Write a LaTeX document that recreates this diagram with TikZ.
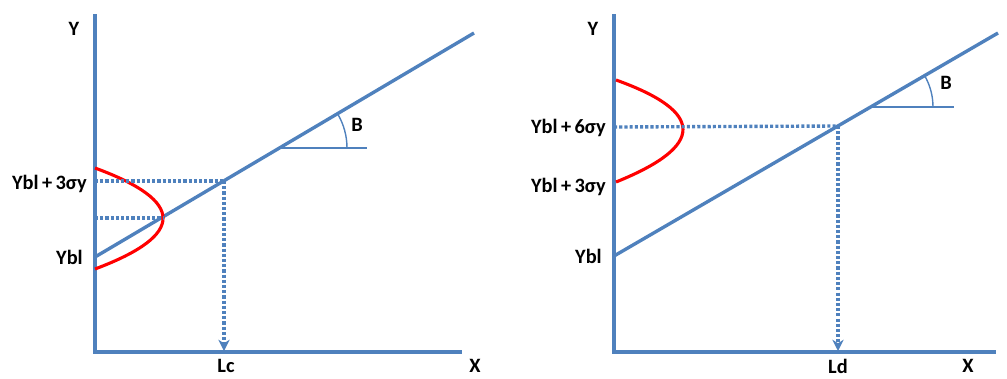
\documentclass[tikz,border=0pt]{standalone}
\usepackage{fontspec}
\setmainfont{Carlito}
\usepackage{tikz}
\usetikzlibrary{arrows.meta}
\definecolor{axisblue}{HTML}{4F81BD}
\definecolor{curvered}{HTML}{FF0000}

\begin{document}
\begin{tikzpicture}[
  x=0.025cm, y=-0.025cm,
  axis/.style={draw=axisblue, line width=2.2pt},
  trend/.style={draw=axisblue, line width=2.4pt},
  guide/.style={draw=axisblue, line width=2.4pt, dash pattern=on 2.2pt off 1.5pt},
  drop/.style={guide, -{Stealth[length=8pt, width=8pt, inset=2.5pt]}},
  bell/.style={draw=curvered, line width=2.2pt},
  ref/.style={draw=axisblue, line width=1pt},
  lbl/.style={inner sep=0pt, font=\fontsize{14.5}{17}\selectfont\bfseries}
]
  \useasboundingbox (0,0) rectangle (1007,378);

  % left panel
  \coordinate (ltop) at (95,14);
  \coordinate (lorig) at (95,352);
  \coordinate (lend) at (462,352);
  \draw[axis] (ltop) -- (lorig) -- (lend);

  \coordinate (lstart) at (95,257);
  \coordinate (lfar) at (474,33);
  \coordinate (lmeet) at (224,181);
  \coordinate (lfoot) at (224,351);
  \draw[trend] (lstart) -- (lfar);

  \draw[bell] (95,168) .. controls (185.7,201.3) and (185.7,235) .. (95,269);
  \coordinate (lpeak) at (163,218);
  \coordinate (lyhi) at (95,181);
  \coordinate (lymid) at (95,218);
  \draw[guide] (lyhi) -- (lmeet);
  \draw[guide] (lymid) -- (lpeak);
  \draw[drop] (lmeet) -- (lfoot);

  \coordinate (lvtx) at (280,148);
  \coordinate (lref) at (367,148);
  \draw[ref] (lvtx) -- (lref);
  \draw[ref] (347,148) arc[start angle=0, end angle=30.6, radius=1.675cm];

  \node[lbl] (ly) at (74,29) {Y};
  \node[lbl] (lx) at (475,366) {X};
  \node[lbl] (lc) at (226,366) {Lc};
  \node[lbl] (lb) at (357,125) {B};
  \node[lbl, anchor=east] (lhi) at (87,184) {Ybl\,+\,3σy};
  \node[lbl, anchor=east] (lbase) at (83,257) {Ybl};

  % right panel
  \coordinate (rtop) at (614,14);
  \coordinate (rorig) at (614,352);
  \coordinate (rend) at (996,352);
  \draw[axis] (rtop) -- (rorig) -- (rend);

  \coordinate (rstart) at (614,256);
  \coordinate (rfar) at (998,33);
  \coordinate (rmeet) at (838,126);
  \coordinate (rfoot) at (838,351);
  \draw[trend] (rstart) -- (rfar);

  \draw[bell] (616,80) .. controls (705.3,112) and (705.3,146) .. (616,182);
  \coordinate (rymid) at (614,127);
  \draw[guide] (rymid) -- (rmeet);
  \draw[drop] (rmeet) -- (rfoot);

  \coordinate (rvtx) at (870,107);
  \coordinate (rref) at (954,107);
  \draw[ref] (rvtx) -- (rref);
  \draw[ref] (933,107) arc[start angle=0, end angle=30.1, radius=1.575cm];

  \node[lbl] (ry) at (593,29) {Y};
  \node[lbl] (rx) at (968,366) {X};
  \node[lbl] (ld) at (838,366) {Ld};
  \node[lbl] (rb) at (946,83) {B};
  \node[lbl, anchor=east] (rhi) at (606,128) {Ybl\,+\,6σy};
  \node[lbl, anchor=east] (rlo) at (606,187) {Ybl\,+\,3σy};
  \node[lbl, anchor=east] (rbase) at (602,256) {Ybl};
\end{tikzpicture}
\end{document}
